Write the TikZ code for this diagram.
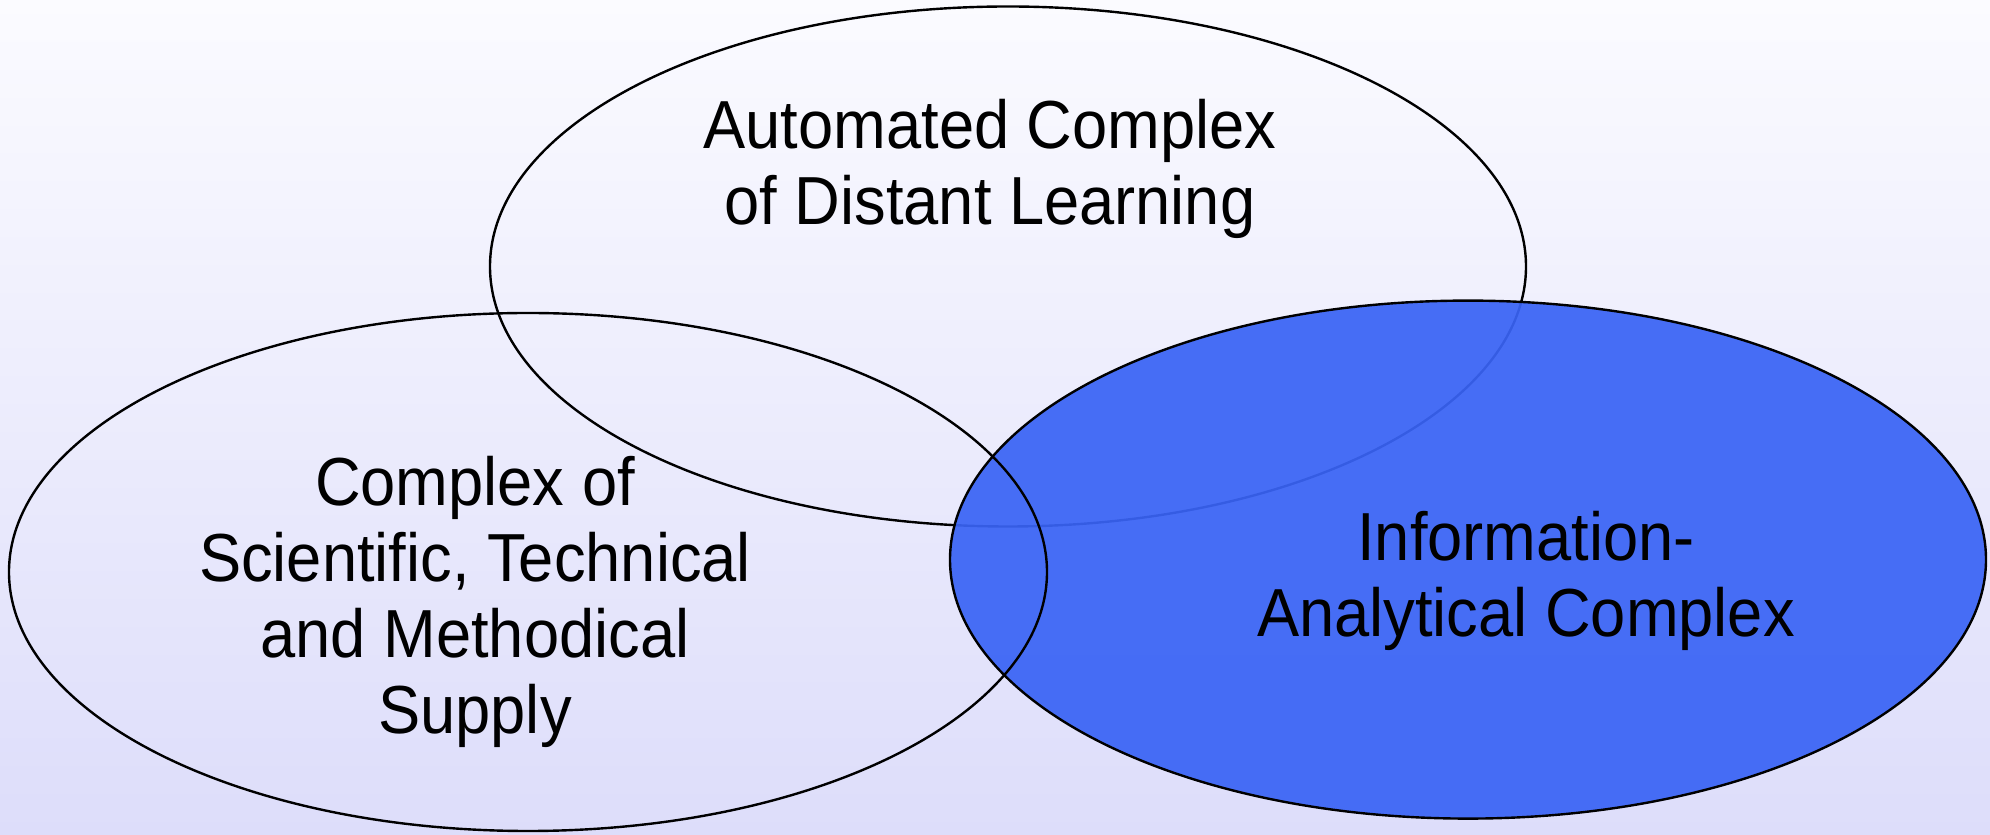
\documentclass[tikz,border=0pt]{standalone}
\usepackage{fontspec}
\setmainfont[FakeStretch=0.93]{Liberation Sans}
\usepackage{tikz}
\definecolor{bgtop}{RGB}{251,251,255}
\definecolor{bgbottom}{RGB}{221,221,250}
\definecolor{iablue}{RGB}{58,100,245}

\begin{document}
\begin{tikzpicture}[x=1pt,y=1pt,
  lbl/.style={align=center,inner sep=0pt,font=\fontsize{68}{76}\selectfont}]
\shade [top color=bgtop,bottom color=bgbottom] (0,0) rectangle (1990,835);
\useasboundingbox (0,0) rectangle (1990,835);
\draw [line width=2.4pt] (1008,568.5) ellipse (518pt and 260pt);
\draw [line width=2.4pt,fill=iablue,fill opacity=0.93] (1468,275.4) ellipse (518pt and 259pt);
\draw [line width=2.4pt] (528,263) ellipse (519pt and 259pt);
%Text
\node (adl) [lbl,anchor=base] at (990,610.5) {Automated Complex\\of Distant Learning};
\node (stm) [lbl,anchor=base] at (475,101.5) {Complex of\\Scientific, Technical\\and Methodical\\Supply};
\node (iac) [lbl,anchor=base] at (1526,198) {Information-\\Analytical Complex};
\end{tikzpicture}
\end{document}
